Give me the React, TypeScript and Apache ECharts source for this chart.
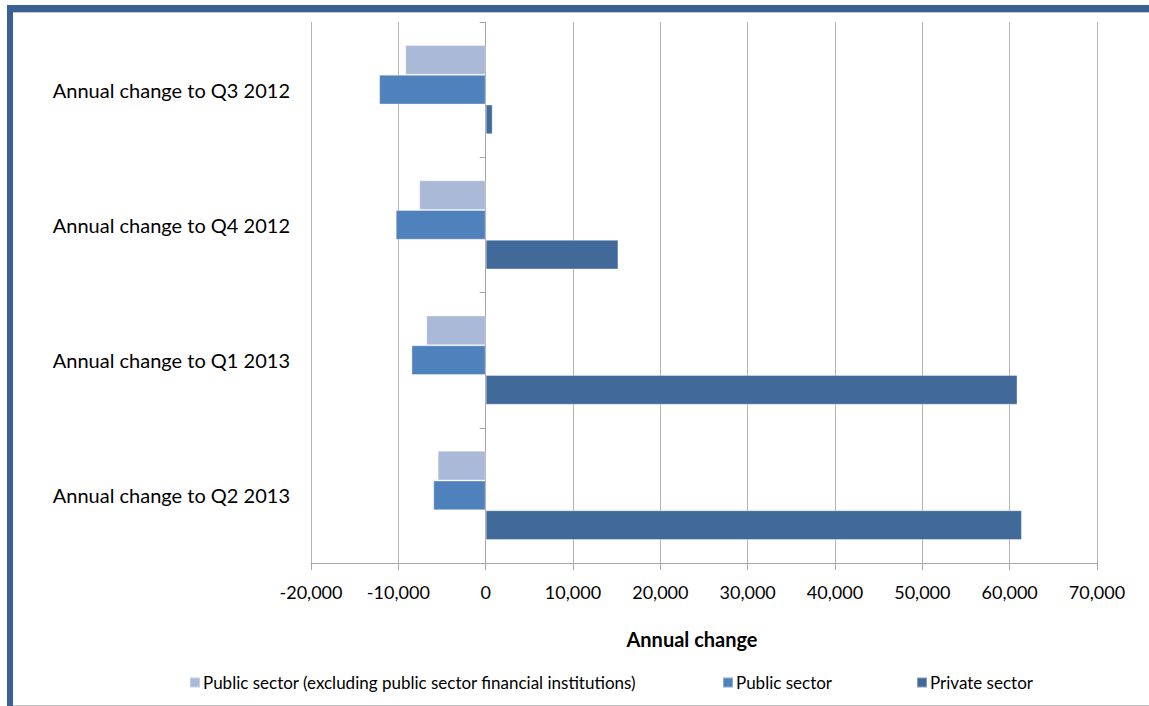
import React, { useEffect, useRef } from "react";
import * as echarts from "echarts";

const categories = [
  "Annual change to Q3 2012",
  "Annual change to Q4 2012",
  "Annual change to Q1 2013",
  "Annual change to Q2 2013",
];
const seriesNames = [
  "Public sector (excluding public sector financial institutions)",
  "Public sector",
  "Private sector",
];
const publicExclFin = [-9200, -7600, -6800, -5500];
const publicSector = [-12200, -10300, -8500, -6000];
const privateSector = [800, 15200, 60900, 61400];
const colors = ["#aab9d8", "#4f81bd", "#416a9b"];
const legendLefts = [184, 717, 911];

export default function App() {
  const ref = useRef<HTMLDivElement>(null);
  useEffect(() => {
    const chart = echarts.init(ref.current!, null, { renderer: "svg" });
    const font = "Lato";
    const dataSets = [publicExclFin, publicSector, privateSector];
    chart.setOption({
      animation: false,
      backgroundColor: "#ffffff",
      textStyle: { fontFamily: font },
      grid: { left: 311, right: 52, top: 22, bottom: 143, containLabel: false, outerBoundsMode: "none" },
      legend: seriesNames.map((name, i) => ({
        left: legendLefts[i],
        top: 669,
        itemWidth: 10,
        itemHeight: 10,
        itemGap: 0,
        icon: "rect",
        textStyle: { fontFamily: font, fontSize: 17, color: "#000", padding: [0, 0, 0, -2] },
        data: [name],
      })),
      xAxis: {
        type: "value",
        min: -20000,
        max: 70000,
        interval: 10000,
        name: "Annual change",
        nameLocation: "middle",
        nameGap: 66,
        nameTextStyle: { fontFamily: font, fontSize: 20, fontWeight: "bold", color: "#000", padding: [0, 24, 0, 0] },
        axisLine: { show: true, lineStyle: { color: "#a6a6a6" } },
        axisTick: { show: true, length: 7, lineStyle: { color: "#a6a6a6" } },
        splitLine: { show: true, lineStyle: { color: "#b3b3b3" } },
        axisLabel: {
          fontFamily: font,
          fontSize: 18,
          color: "#000",
          margin: 20,
          formatter: (v: number) => v.toLocaleString("en-US"),
        },
      },
      yAxis: {
        type: "category",
        inverse: true,
        data: categories,
        axisLine: { show: true, onZero: true, lineStyle: { color: "#a6a6a6" } },
        axisTick: { show: true, length: 6, lineStyle: { color: "#a6a6a6" } },
        axisLabel: { fontFamily: font, fontSize: 20, color: "#000", margin: 21 },
        splitLine: { show: false },
      },
      series: seriesNames.map((name, i) => ({
        name,
        type: "bar",
        data: dataSets[i],
        barGap: "0%",
        barCategoryGap: "34%",
        itemStyle: { color: colors[i], borderColor: "rgba(255,255,255,0.35)", borderWidth: 1 },
      })),
      graphic: [
        { type: "rect", shape: { x: 7, y: 5, width: 1142, height: 7 }, style: { fill: "#3a6192" } },
        { type: "rect", shape: { x: 7, y: 5, width: 6, height: 701 }, style: { fill: "#3a6192" } },
        { type: "line", shape: { x1: 13, y1: 12.5, x2: 1149, y2: 12.5 }, style: { stroke: "#c8c8c8", lineWidth: 1 } },
        { type: "line", shape: { x1: 13, y1: 705.5, x2: 1149, y2: 705.5 }, style: { stroke: "#c0c0c0", lineWidth: 1 } },
      ],
    });
    return () => chart.dispose();
  }, []);
  return (
    <div
      ref={ref}
      style={{ position: "fixed", left: 0, top: 0, width: 1149, height: 706 }}
    />
  );
}
